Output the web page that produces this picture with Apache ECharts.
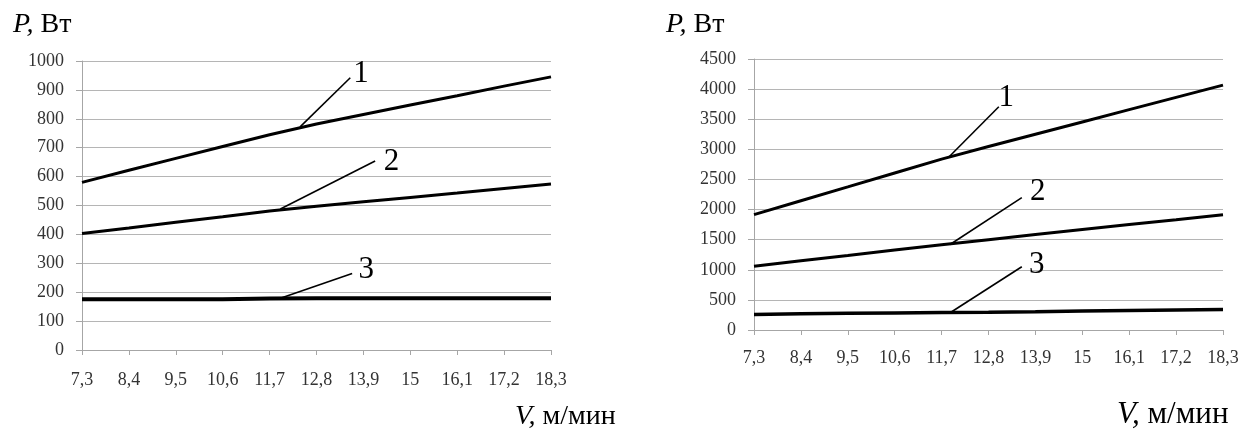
<!DOCTYPE html>
<html>
<head>
<meta charset="utf-8">
<script src="https://cdn.jsdelivr.net/npm/echarts@6/dist/echarts.min.js"></script>
<style>
html,body{margin:0;padding:0;background:#fff;}
#chart{width:1242px;height:436px;}
</style>
</head>
<body>
<div id="chart"></div>
<script>
// Categories: cutting speed V, m/min
const categories = ['7,3','8,4','9,5','10,6','11,7','12,8','13,9','15','16,1','17,2','18,3'];
// Left chart series (P, W)
const leftP1 = [580, 622, 663, 704, 745, 782, 815, 848, 880, 913, 945];
const leftP2 = [403, 422, 442, 461, 481, 497, 513, 528, 543, 559, 574];
const leftP3 = [176, 176, 176, 176, 178, 179, 179, 179, 179, 179, 179];
// Right chart series (P, W)
const rightP1 = [1915, 2146, 2376, 2608, 2837, 3046, 3251, 3455, 3659, 3863, 4067];
const rightP2 = [1060, 1149, 1238, 1328, 1416, 1500, 1584, 1667, 1750, 1832, 1915];
const rightP3 = [259, 268, 277, 284, 290, 296, 305, 315, 325, 334, 342];
// Y tick settings
const leftYMax = 1000, leftYStep = 100;
const rightYMax = 4500, rightYStep = 500;
// Curve numbers and leader lines (in data coordinates: category index, value)
const curveNames = ['1', '2', '3'];
const leftLeaders = [[4.65, 772, 5.72, 942], [4.23, 488, 6.25, 654], [4.23, 179, 5.76, 265]];
const leftLabels = [[5.95, 957], [6.6, 652], [6.06, 277]];
const rightLeaders = [[4.15, 2868, 5.22, 3708], [4.18, 1420, 5.71, 2197], [4.19, 291, 5.71, 1051]];
const rightLabels = [[5.38, 3862], [6.05, 2297], [6.03, 1079]];

const FONT = '"Liberation Serif", "Times New Roman", serif';

function pairs(arr) { return arr.map((v, i) => [i, v]); }

function xAxisFor(gridIndex) {
  return {
    type: 'value', gridIndex: gridIndex, min: 0, max: categories.length - 1, interval: 1,
    axisLine: { show: true, lineStyle: { color: '#a6a6a6', width: 1 } },
    axisTick: { show: true, length: 5, lineStyle: { color: '#a6a6a6' } },
    splitLine: { show: false },
    axisLabel: {
      margin: gridIndex === 0 ? 21 : 19,
      fontFamily: FONT, fontSize: 18, color: '#333',
      formatter: v => categories[Math.round(v)] || ''
    }
  };
}
function yAxisFor(gridIndex, max, step) {
  return {
    type: 'value', gridIndex: gridIndex, min: 0, max: max, interval: step,
    axisLine: { show: true, lineStyle: { color: '#a6a6a6', width: 1 } },
    axisTick: { show: true, length: 6, lineStyle: { color: '#a6a6a6' } },
    splitLine: { show: true, lineStyle: { color: '#b5b5b5', width: 1 } },
    axisLabel: { margin: 18, fontFamily: FONT, fontSize: 18, color: '#333', formatter: v => String(v) }
  };
}

function annotations(leaders, labels) {
  return {
    markLine: {
      silent: true, symbol: 'none',
      lineStyle: { color: '#000', width: 1.6, type: 'solid' },
      label: { show: false },
      data: leaders.map(l => [{ coord: [l[0], l[1]] }, { coord: [l[2], l[3]] }])
    },
    markPoint: {
      silent: true, symbol: 'circle', symbolSize: 1,
      itemStyle: { color: 'rgba(0,0,0,0)' },
      label: { show: true, position: 'inside', fontFamily: FONT, fontSize: 31, color: '#000',
               formatter: p => p.name },
      data: labels.map((l, i) => ({ name: curveNames[i], coord: [l[0], l[1]] }))
    }
  };
}

function lineSeries(data, xi, width, extra) {
  return Object.assign({
    type: 'line', xAxisIndex: xi, yAxisIndex: xi, data: pairs(data),
    showSymbol: false, symbol: 'none',
    lineStyle: { color: '#000', width: width }, z: 5
  }, extra || {});
}

const s = (a, b) => Object.assign({}, a, b);
const la = annotations(leftLeaders, leftLabels);
const ra = annotations(rightLeaders, rightLabels);

function nameTitle(text, left, top, size) {
  return { text: text, left: left, top: top,
    textStyle: { rich: { i: { fontFamily: FONT, fontStyle: 'italic', fontSize: size, color: '#000' } },
                 fontFamily: FONT, fontSize: size, color: '#000', fontWeight: 'normal' } };
}

const option = {
  animation: false,
  backgroundColor: '#fff',
  title: [
    nameTitle('{i|P,} Вт', 8, 6, 28),
    nameTitle('{i|P,} Вт', 661, 6, 28),
    nameTitle('{i|V,} м/мин', 510, 398, 28),
    nameTitle('{i|V,} м/мин', 1112, 394, 31)
  ],
  grid: [
    { left: 82, top: 61, width: 469, height: 289 },
    { left: 754, top: 59, width: 469, height: 271 }
  ],
  xAxis: [xAxisFor(0), xAxisFor(1)],
  yAxis: [yAxisFor(0, leftYMax, leftYStep), yAxisFor(1, rightYMax, rightYStep)],
  series: [
    lineSeries(leftP1, 0, 3, { markLine: s(la.markLine, { data: [la.markLine.data[0]] }), markPoint: s(la.markPoint, { data: [la.markPoint.data[0]] }) }),
    lineSeries(leftP2, 0, 3, { markLine: s(la.markLine, { data: [la.markLine.data[1]] }), markPoint: s(la.markPoint, { data: [la.markPoint.data[1]] }) }),
    lineSeries(leftP3, 0, 4, { markLine: s(la.markLine, { data: [la.markLine.data[2]] }), markPoint: s(la.markPoint, { data: [la.markPoint.data[2]] }) }),
    lineSeries(rightP1, 1, 3, { markLine: s(ra.markLine, { data: [ra.markLine.data[0]] }), markPoint: s(ra.markPoint, { data: [ra.markPoint.data[0]] }) }),
    lineSeries(rightP2, 1, 3, { markLine: s(ra.markLine, { data: [ra.markLine.data[1]] }), markPoint: s(ra.markPoint, { data: [ra.markPoint.data[1]] }) }),
    lineSeries(rightP3, 1, 3.5, { markLine: s(ra.markLine, { data: [ra.markLine.data[2]] }), markPoint: s(ra.markPoint, { data: [ra.markPoint.data[2]] }) })
  ]
};

const chart = echarts.init(document.getElementById('chart'), null, { renderer: 'canvas' });
chart.setOption(option);
</script>
</body>
</html>
